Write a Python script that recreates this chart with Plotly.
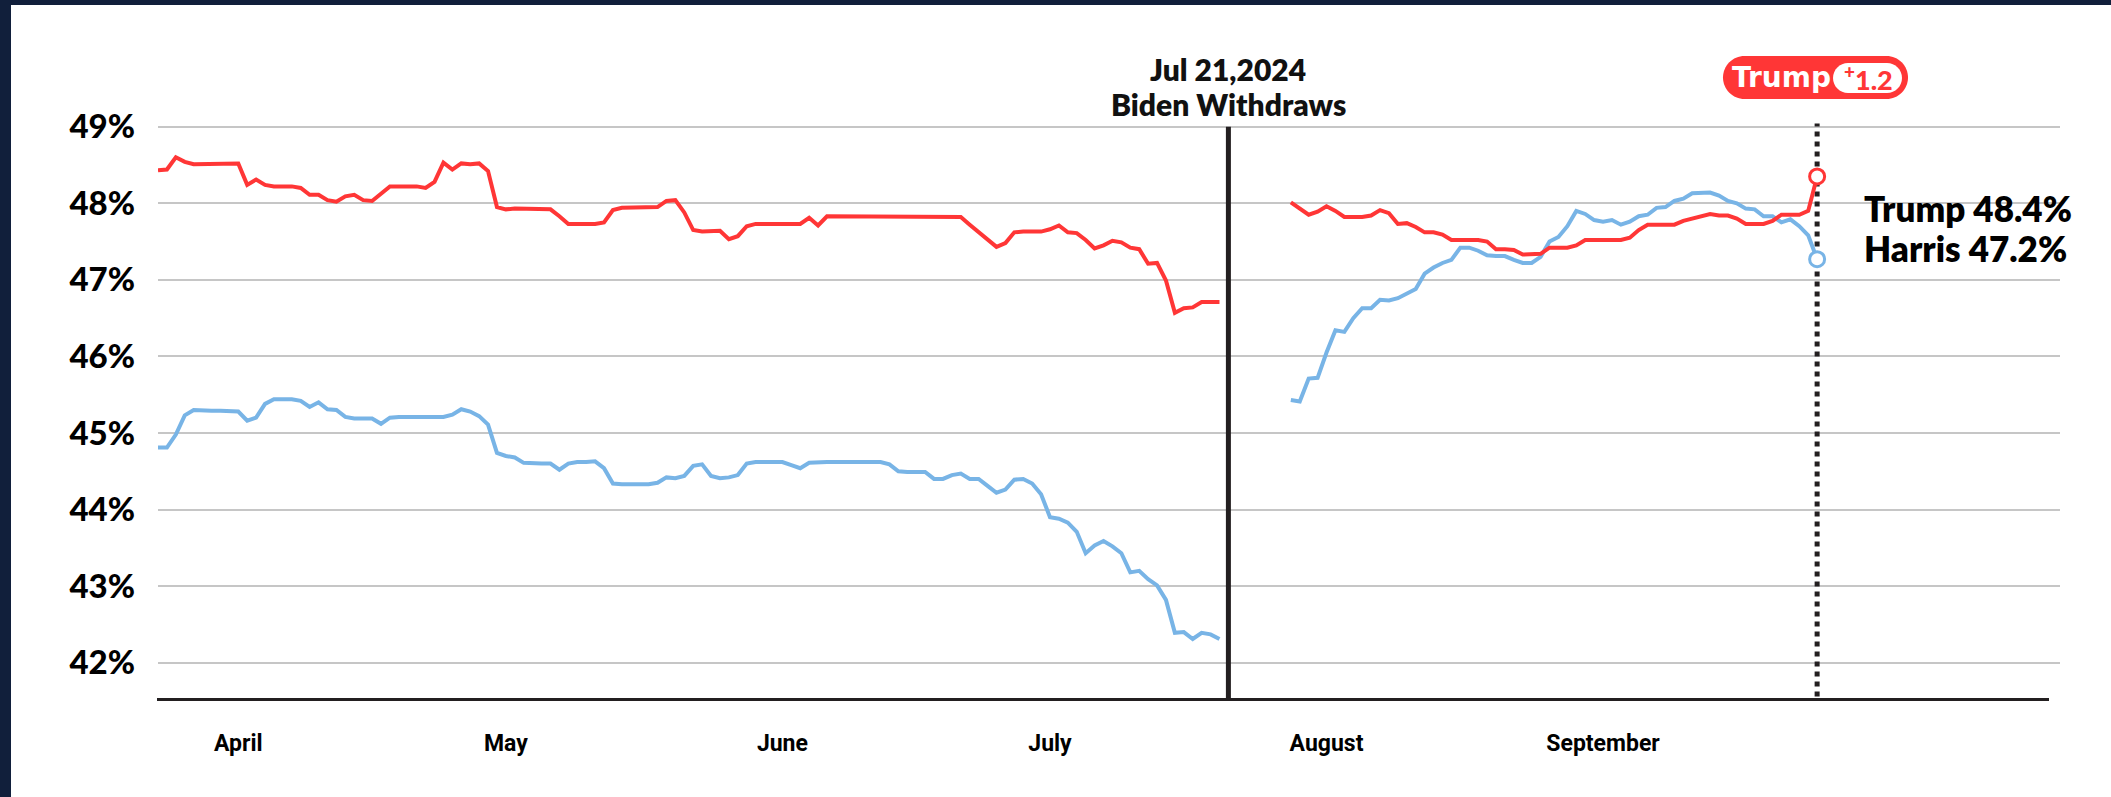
import plotly.graph_objects as go
import pandas as pd

# ---------------- data ----------------
pre_dates = pd.date_range("2024-03-23", "2024-07-20", freq="D")
post_dates = pd.date_range("2024-07-28", "2024-09-25", freq="D")

trump_pre = [
    48.43, 48.44, 48.60, 48.54, 48.51, 48.51, 48.51, 48.51, 48.51,
    48.52, 48.24, 48.31, 48.24, 48.22, 48.22, 48.22, 48.20, 48.11, 48.11,
    48.04, 48.02, 48.09, 48.11, 48.04, 48.03, 48.12, 48.22, 48.22, 48.22,
    48.22, 48.20, 48.28, 48.53, 48.44, 48.52, 48.51, 48.52, 48.42, 47.95,
    47.92, 47.93, 47.93, 47.93, 47.93, 47.92, 47.83, 47.73, 47.73, 47.73,
    47.73, 47.75, 47.91, 47.94, 47.94, 47.94, 47.94, 47.95, 48.03, 48.04,
    47.88, 47.65, 47.63, 47.64, 47.64, 47.53, 47.57, 47.70, 47.73, 47.73,
    47.73, 47.73, 47.73, 47.73, 47.81, 47.71, 47.83, 47.83, 47.83, 47.83,
    47.83, 47.83, 47.83, 47.83, 47.83, 47.83, 47.83, 47.83, 47.83, 47.83,
    47.83, 47.82, 47.72, 47.62, 47.52, 47.43, 47.48, 47.62, 47.63, 47.63,
    47.63, 47.66, 47.71, 47.62, 47.61, 47.52, 47.41, 47.45, 47.51, 47.49,
    47.42, 47.40, 47.21, 47.22, 46.99, 46.57, 46.63, 46.64, 46.71, 46.71, 46.71,
]
harris_pre = [
    44.81, 44.81, 44.98, 45.23, 45.30, 45.29, 45.29, 45.29, 45.29,
    45.28, 45.16, 45.20, 45.38, 45.44, 45.44, 45.44, 45.42, 45.34, 45.40,
    45.31, 45.30, 45.21, 45.19, 45.19, 45.19, 45.12, 45.20, 45.21, 45.21,
    45.21, 45.21, 45.21, 45.21, 45.24, 45.31, 45.28, 45.22, 45.11, 44.74,
    44.70, 44.68, 44.61, 44.60, 44.60, 44.60, 44.52, 44.60, 44.62, 44.62,
    44.63, 44.54, 44.34, 44.33, 44.33, 44.33, 44.33, 44.35, 44.42, 44.41,
    44.44, 44.57, 44.59, 44.44, 44.41, 44.42, 44.45, 44.60, 44.62, 44.62,
    44.62, 44.62, 44.58, 44.54, 44.61, 44.62, 44.62, 44.62, 44.62, 44.62,
    44.62, 44.62, 44.62, 44.59, 44.50, 44.49, 44.49, 44.49, 44.40, 44.40,
    44.45, 44.47, 44.40, 44.40, 44.31, 44.22, 44.26, 44.39, 44.40, 44.34,
    44.20, 43.90, 43.88, 43.83, 43.71, 43.43, 43.53, 43.59, 43.52, 43.43,
    43.18, 43.20, 43.09, 43.01, 42.82, 42.39, 42.40, 42.31, 42.39, 42.37, 42.31,
]
trump_post = [
    48.01, 47.93, 47.85, 47.89, 47.96, 47.90, 47.82, 47.82, 47.82, 47.84,
    47.91, 47.87, 47.73, 47.74, 47.69, 47.62, 47.62, 47.59, 47.52, 47.52,
    47.52, 47.52, 47.50, 47.40, 47.40, 47.39, 47.33, 47.33, 47.34, 47.42,
    47.42, 47.42, 47.45, 47.52, 47.52, 47.52, 47.52, 47.52, 47.55, 47.65,
    47.72, 47.72, 47.72, 47.72, 47.77, 47.80, 47.82, 47.86, 47.84, 47.84,
    47.80, 47.73, 47.73, 47.73, 47.77, 47.85, 47.85, 47.85, 47.90, 48.35,
]
harris_post = [
    45.43, 45.41, 45.71, 45.72, 46.05, 46.34, 46.32, 46.50, 46.63, 46.63,
    46.74, 46.73, 46.76, 46.82, 46.88, 47.08, 47.16, 47.22, 47.26, 47.42,
    47.42, 47.38, 47.32, 47.31, 47.31, 47.26, 47.22, 47.22, 47.30, 47.50,
    47.56, 47.70, 47.90, 47.86, 47.78, 47.76, 47.78, 47.72, 47.76, 47.83,
    47.85, 47.94, 47.95, 48.03, 48.06, 48.13, 48.13, 48.14, 48.10, 48.03,
    48.00, 47.93, 47.92, 47.83, 47.83, 47.75, 47.79, 47.70, 47.58, 47.27,
]

month_ticks = ["2024-04-01", "2024-05-01", "2024-06-01", "2024-07-01", "2024-08-01", "2024-09-01"]
month_labels = ["April", "May", "June", "July", "August", "September"]
y_ticks = [42, 43, 44, 45, 46, 47, 48, 49]
y_labels = [f"{v}%" for v in y_ticks]

event_date = "2024-07-21"
event_text = ["Jul 21,2024", "Biden Withdraws"]
latest_reported = {"Trump": 48.4, "Harris": 47.2}
leader, lead_margin = "Trump", 1.2

# ---------------- styling / geometry ----------------
RED = "#ff3636"
BLUE = "#78b4e6"
INK = "#231f20"
NAVY = "#111f3b"
W, H = 2111, 797
L, R, T, B = 158, 51, 119, 96
PW, PH = W - L - R, H - T - B
PX_PER_DAY = 8.92
Y_RANGE = [41.5, 49.1]


def px(x):
    return (x - L) / PW


def py(y):
    return (H - B - y) / PH


x_start = pre_dates[0]
x_end = x_start + pd.Timedelta(days=PW / PX_PER_DAY)
last_date = post_dates[-1]

fig = go.Figure()
line_style = dict(width=4)
fig.add_trace(go.Scatter(x=pre_dates, y=harris_pre, mode="lines", line=dict(color=BLUE, **line_style), hoverinfo="skip"))
fig.add_trace(go.Scatter(x=post_dates, y=harris_post, mode="lines", line=dict(color=BLUE, **line_style), hoverinfo="skip"))
fig.add_trace(go.Scatter(x=pre_dates, y=trump_pre, mode="lines", line=dict(color=RED, **line_style), hoverinfo="skip"))
fig.add_trace(go.Scatter(x=post_dates, y=trump_post, mode="lines", line=dict(color=RED, **line_style), hoverinfo="skip"))
# end markers
fig.add_trace(go.Scatter(
    x=[last_date, last_date], y=[trump_post[-1], harris_post[-1]], mode="markers",
    marker=dict(size=15, color="white", line=dict(width=3, color=[RED, BLUE])),
    hoverinfo="skip"))

shapes = []
# event line
shapes.append(dict(type="line", xref="x", yref="y", x0=event_date, x1=event_date,
                   y0=Y_RANGE[0], y1=49.0, line=dict(color=INK, width=5), layer="between"))
# latest dotted line
shapes.append(dict(type="line", xref="x", yref="y", x0=last_date, x1=last_date,
                   y0=Y_RANGE[0] + 0.06, y1=49.04, line=dict(color=INK, width=5, dash="dot"), layer="between"))
# x axis baseline
shapes.append(dict(type="line", xref="paper", yref="y", x0=px(157), x1=px(2049),
                   y0=Y_RANGE[0], y1=Y_RANGE[0], line=dict(color=INK, width=6)))
# page border (dark frame on left and top)
shapes.append(dict(type="rect", xref="paper", yref="paper", x0=px(0), x1=px(11), y0=py(H), y1=py(0),
                   fillcolor=NAVY, line=dict(width=0)))
shapes.append(dict(type="rect", xref="paper", yref="paper", x0=px(0), x1=px(W), y0=py(5), y1=py(0),
                   fillcolor=NAVY, line=dict(width=0)))


def pill(cx, cy, w, h, color):
    a, r = w / 2, h / 2
    k = 0.5523 * r
    p = (f"M {-a + r},{-r} L {a - r},{-r} "
         f"C {a - r + k},{-r} {a},{-k} {a},0 "
         f"C {a},{k} {a - r + k},{r} {a - r},{r} "
         f"L {-a + r},{r} "
         f"C {-a + r - k},{r} {-a},{k} {-a},0 "
         f"C {-a},{-k} {-a + r - k},{-r} {-a + r},{-r} Z")
    return dict(type="path", xref="paper", yref="paper", xsizemode="pixel", ysizemode="pixel",
                xanchor=px(cx), yanchor=py(cy), path=p, fillcolor=color, line=dict(width=0))


shapes.append(pill(1815.5, 77.5, 185, 43, RED))
shapes.append(pill(1867.5, 78, 69, 30, "white"))

annotations = []
for i, line in enumerate(event_text):
    annotations.append(dict(x=event_date, xref="x", y=py(69 + 35 * i), yref="paper", text=line,
                            showarrow=False, xanchor="center", yanchor="middle",
                            font=dict(family="Lato", size=30, weight=800, color="#111")))
for i, (name, val) in enumerate(latest_reported.items()):
    annotations.append(dict(x=px(1862), xref="paper", y=py(208 + 40 * i), yref="paper",
                            text=f"{name} {val:.1f}%", showarrow=False, xanchor="left", yanchor="middle",
                            font=dict(family="Lato", size=35, weight=800, color="#000")))
annotations.append(dict(x=px(1781), xref="paper", y=py(77), yref="paper", text=leader,
                        showarrow=False, xanchor="center", yanchor="middle",
                        font=dict(family="DejaVu Sans", size=28, weight=700, color="white")))
annotations.append(dict(x=px(1868), xref="paper", y=py(78), yref="paper",
                        text=f"<sup>+</sup>{lead_margin:.1f}",
                        showarrow=False, xanchor="center", yanchor="middle",
                        font=dict(family="Lato", size=27, weight=900, color=RED)))

fig.update_layout(
    width=W, height=H,
    margin=dict(l=L, r=R, t=T, b=B, pad=0),
    paper_bgcolor="white", plot_bgcolor="white",
    showlegend=False,
    shapes=shapes, annotations=annotations,
    xaxis=dict(type="date", range=[x_start, x_end], tickvals=month_ticks, ticktext=month_labels,
               showgrid=False, zeroline=False, showline=False, ticks="",
               ticklabelstandoff=26,
               tickfont=dict(family="Roboto", size=23, weight=700, color="#000")),
    yaxis=dict(range=Y_RANGE, tickvals=y_ticks, ticktext=y_labels,
               showgrid=True, gridcolor="#c6c6c6", gridwidth=2, zeroline=False, showline=False, ticks="",
               ticklabelstandoff=22,
               tickfont=dict(family="Lato", size=33, weight=900, color="#000")),
)

fig.write_html(
    "out.html",
    config={"displayModeBar": False},
    post_script="document.body.style.margin='0';document.body.style.overflow='hidden';",
)
